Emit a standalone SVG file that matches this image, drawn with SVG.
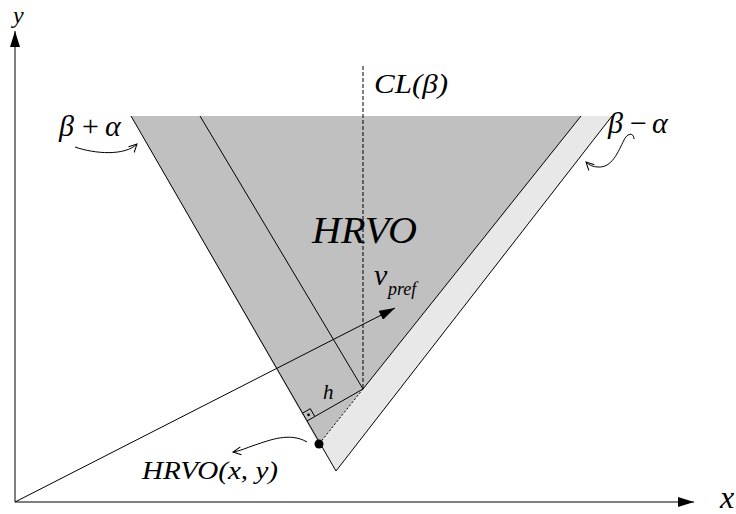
<svg xmlns="http://www.w3.org/2000/svg" width="736" height="514" viewBox="0 0 736 514">
<defs>
<style>
.ln{stroke:#000;stroke-width:1;fill:none}
.lbl{font-family:"Liberation Serif","Times New Roman",serif;font-style:italic;fill:#000}
.up{font-style:normal}
</style>
<marker id="solid" viewBox="0 0 16 10" refX="16" refY="5" markerWidth="16" markerHeight="10" markerUnits="userSpaceOnUse" orient="auto">
<path d="M0,0 L16,5 L0,10 Z" fill="#000"/>
</marker>
<marker id="open" viewBox="0 0 10 10" refX="9" refY="5" markerWidth="10" markerHeight="10" markerUnits="userSpaceOnUse" orient="auto">
<path d="M1,1 L9,5 L1,9" fill="none" stroke="#000" stroke-width="1"/>
</marker>
</defs>
<rect width="736" height="514" fill="#fff"/>

<g id="region">
<polygon points="131,116 612,116 336,471" fill="#e8e8e8"/>
<polygon points="131,116 581,116 319,444" fill="#c0c0c0"/>
</g>

<g id="connectors">
<line class="ln" x1="15" y1="502" x2="15" y2="31" marker-end="url(#solid)"/>
<line class="ln" x1="15" y1="502" x2="694" y2="502" marker-end="url(#solid)"/>
<line class="ln" x1="131" y1="116" x2="336" y2="471"/>
<line class="ln" x1="612" y1="116" x2="336" y2="471"/>
<line class="ln" x1="581" y1="116" x2="363" y2="389"/>
<line class="ln" x1="363" y1="389" x2="319" y2="444" stroke-dasharray="2,2"/>
<line class="ln" x1="200" y1="116" x2="363" y2="389"/>
<line class="ln" x1="363" y1="66" x2="363" y2="389" stroke-dasharray="4,2"/>
<line class="ln" x1="363" y1="389" x2="307" y2="421"/>
<polyline class="ln" points="302.5,413.2 310.3,408.7 314.8,416.5"/>
<circle cx="308.6" cy="414.8" r="1.4" fill="#000"/>
<line class="ln" x1="15" y1="502" x2="395" y2="308" marker-end="url(#solid)"/>
<circle cx="319" cy="444" r="4.5" fill="#000"/>
<path class="ln" d="M75,147 C95,154 125,156 137,144" marker-end="url(#open)"/>
<path class="ln" d="M634,139 C634,133 628,132 624,140 C618,152 612,168 598,167 C593,167 589,165 586,162" marker-end="url(#open)"/>
<path class="ln" d="M307,442 C290,432 270,440 255,445 C246,448 240,451 233,452" marker-end="url(#open)"/>
</g>

<g id="labels">
<text class="lbl" x="13" y="23" font-size="24">y</text>
<text class="lbl" x="720" y="508" font-size="32">x</text>
<text class="lbl" x="374" y="93" font-size="28" textLength="74" lengthAdjust="spacingAndGlyphs">CL(β)</text>
<text class="lbl" x="312" y="243" font-size="38" textLength="105" lengthAdjust="spacingAndGlyphs">HRVO</text>
<text class="lbl" x="374" y="285" font-size="30">v</text>
<text class="lbl" x="388" y="295" font-size="18">pref</text>
<text class="lbl" x="323" y="399" font-size="21">h</text>
<text class="lbl" x="142" y="479" font-size="26" textLength="136" lengthAdjust="spacingAndGlyphs">HRVO(x, y)</text>
<text class="lbl" y="136" font-size="30"><tspan x="59">β</tspan><tspan class="up" x="82">+</tspan><tspan x="105">α</tspan></text>
<text class="lbl" y="133" font-size="30"><tspan x="608">β</tspan><tspan class="up" x="630">−</tspan><tspan x="652">α</tspan></text>
</g>
</svg>
